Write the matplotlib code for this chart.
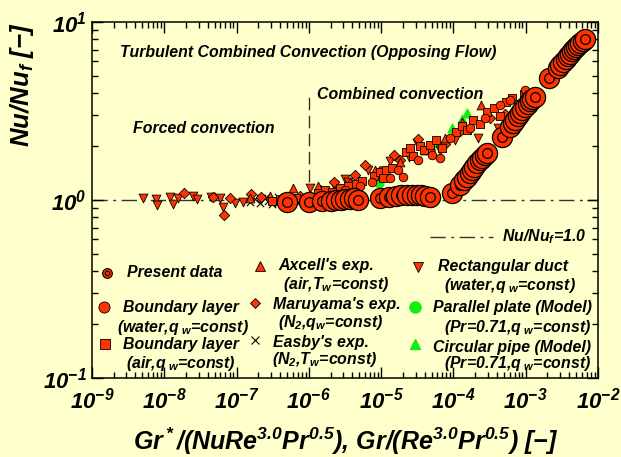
import matplotlib
matplotlib.use('Agg')
import matplotlib.pyplot as plt
import numpy as np
from matplotlib.ticker import FixedLocator, NullFormatter

# данные
pres_x = [5.0e-7, 1.0e-6, 1.5e-6, 2.0e-6, 2.4e-6, 2.8e-6, 3.2e-6, 3.7e-6, 4.2e-6, 4.8e-6,
          9.6e-6, 1.3e-5, 1.6e-5, 1.9e-5, 2.3e-5, 2.7e-5, 3.1e-5, 3.6e-5, 4.1e-5, 4.8e-5,
          9.5e-5, 1.25e-4, 1.4e-4, 1.54e-4, 1.67e-4, 1.8e-4, 1.95e-4, 2.11e-4, 2.3e-4,
          2.48e-4, 2.7e-4, 2.9e-4,
          4.7e-4, 6.0e-4, 6.6e-4, 7.1e-4, 7.7e-4, 8.3e-4, 9.0e-4, 9.75e-4, 1.06e-3,
          1.14e-3, 1.24e-3, 1.34e-3,
          2.09e-3, 2.79e-3, 3.0e-3, 3.27e-3, 3.55e-3, 3.84e-3, 4.1e-3, 4.35e-3, 4.65e-3,
          4.94e-3, 5.3e-3, 5.62e-3, 6.1e-3, 6.59e-3]
pres_y = [0.98, 0.98, 0.99, 0.99, 1.0, 1.0, 1.01, 1.01, 1.02, 1.0,
          1.02, 1.04, 1.05, 1.06, 1.06, 1.07, 1.07, 1.06, 1.05, 1.04,
          1.09, 1.22, 1.3, 1.35, 1.41, 1.47, 1.54, 1.61, 1.67, 1.72, 1.78, 1.84,
          2.26, 2.57, 2.7, 2.81, 2.95, 3.08, 3.2, 3.33, 3.47, 3.6, 3.7, 3.79,
          4.85, 5.52, 5.75, 5.96, 6.2, 6.44, 6.65, 6.87, 7.05, 7.24, 7.45, 7.62, 7.85, 8.02]

rect_x = [5.1e-9, 7.7e-9, 7.9e-9, 1.2e-8, 1.32e-8, 1.55e-8, 2.5e-8, 2.83e-8, 4.4e-8, 5.9e-8,
          6.5e-8, 9.5e-8, 1.22e-7, 2.2e-7, 3.4e-7, 6.0e-7, 1.04e-6, 2.2e-6, 3.2e-6, 3.5e-6,
          6.6e-6, 1.32e-5, 2.4e-5, 3.1e-5, 6.5e-5, 1.04e-4, 2.2e-4, 4.1e-4, 1.69e-4]
rect_y = [1.03, 1.01, 0.94, 1.04, 0.95, 1.03, 1.05, 1.01, 1.04, 1.03,
          0.91, 0.96, 0.98, 1.01, 0.98, 1.01, 1.17, 1.21, 1.31, 1.26,
          1.47, 1.66, 1.75, 2.08, 1.91, 2.17, 2.23, 2.54, 2.47]

maru_x = [1.87e-8, 4.7e-8, 6.7e-8, 8.1e-8, 1.6e-7, 2.2e-7, 7.5e-7, 1.43e-6, 2.2e-6, 4.3e-6,
          6.0e-6, 9.6e-6, 1.5e-5, 1.82e-5, 3.2e-5, 4.7e-5, 7.6e-5, 1.23e-4, 3.2e-4, 5.1e-4]
maru_y = [1.09, 1.04, 0.82, 1.03, 1.08, 1.04, 1.05, 1.14, 1.27, 1.38,
          1.57, 1.45, 1.79, 1.68, 2.2, 1.91, 2.07, 2.45, 2.89, 3.06]

bl_air_x = [3.1e-7, 4.0e-7, 5.2e-7, 6.7e-7, 1.33e-6, 1.67e-6, 2.1e-6, 2.7e-6, 3.5e-6, 4.5e-6,
            5.5e-6, 7.9e-6, 9.6e-6, 1.16e-5, 1.4e-5, 1.07e-5, 2.2e-5, 2.5e-5, 2.8e-5, 3.4e-5,
            3.9e-5, 4.7e-5, 5.7e-5, 6.9e-5, 1.07e-4, 1.3e-4, 1.55e-4, 1.88e-4, 2.3e-4, 2.9e-4,
            3.6e-4, 4.4e-4, 5.3e-4, 6.4e-4, 7.8e-4, 9.5e-4]
bl_air_y = [0.99, 1.01, 0.97, 1.03, 1.09, 1.14, 1.11, 1.17, 1.2, 1.23,
            1.28, 1.36, 1.44, 1.47, 1.51, 1.33, 1.86, 1.96, 1.77, 2.01,
            1.91, 2.04, 2.17, 1.96, 2.41, 2.6, 2.47, 2.81, 2.68, 3.12,
            3.29, 2.96, 3.55, 3.74, 3.46, 3.94]

bl_water_x = [1.96e-6, 3.2e-6, 5.1e-6, 7.4e-6, 1.32e-5, 1.7e-5, 2.0e-5, 3.2e-5, 5.0e-5, 6.5e-5,
              8.9e-5, 1.69e-4, 2.7e-4, 4.4e-4, 6.0e-4, 9.7e-4]
bl_water_y = [1.07, 1.14, 1.2, 1.26, 1.33, 1.47, 1.35, 1.68, 1.79, 1.72,
              2.23, 2.54, 2.89, 3.42, 3.65, 4.15]

axcell_x = [1.53e-7, 2.9e-7, 6.0e-7, 1.33e-6, 3.7e-6, 8.2e-6, 1.82e-5, 4.0e-5, 7.6e-5, 1.3e-4, 2.4e-4]
axcell_y = [1.03, 1.05, 1.17, 1.2, 1.26, 1.47, 1.64, 1.91, 2.23, 2.74, 3.42]

easby_x = [1.53e-7, 1.8e-7, 2.1e-7, 2.5e-7, 2.7e-7, 3.1e-7, 3.7e-7, 4.4e-7, 5.5e-7, 7.0e-7, 8.9e-7]
easby_y = [0.97, 1.01, 0.96, 1.03, 0.99, 0.95, 1.04, 0.97, 1.01, 0.96, 1.03]

plate_x = [9.3e-6]
plate_y = [1.25]

pipe_x = [5.9e-5, 9.5e-5, 1.31e-4, 1.54e-4]
pipe_y = [2.09, 2.54, 2.85, 3.08]

x_ticks = [1e-9, 1e-8, 1e-7, 1e-6, 1e-5, 1e-4, 1e-3, 1e-2]
y_ticks = [0.1, 1.0, 10.0]

BG = '#FFFFCC'
RED = '#FF3300'
GREEN = '#11EE11'
DASHDOT = (11, 4, 2, 4)

plt.rcParams['font.family'] = 'Liberation Sans'
plt.rcParams['font.weight'] = 'bold'
plt.rcParams['font.style'] = 'italic'
plt.rcParams['mathtext.fontset'] = 'custom'
plt.rcParams['mathtext.rm'] = 'Liberation Sans:bold'
plt.rcParams['mathtext.it'] = 'Liberation Sans:bold:italic'
plt.rcParams['mathtext.bf'] = 'Liberation Sans:bold'
plt.rcParams['mathtext.default'] = 'regular'

fig = plt.figure(figsize=(6.21, 4.57), dpi=100)
fig.patch.set_facecolor(BG)
ax = fig.add_axes([0.148, 0.1729, 0.815, 0.779])
ax.set_facecolor(BG)
ax.set_xscale('log')
ax.set_yscale('log')
ax.set_xlim(1e-9, 1e-2)
ax.set_ylim(0.1, 10)

# линии
ax.axhline(1.0, color='#333333', lw=1, dashes=DASHDOT, zorder=1)
ax.plot([1e-6, 1e-6], [1.0, 3.9], color='#333333', lw=1, dashes=(9, 4), zorder=1)

mk = dict(edgecolors='black', linewidths=0.6)
ax.scatter(pipe_x, pipe_y, marker='^', s=40, color=GREEN, zorder=2)
ax.scatter(plate_x, plate_y, marker='o', s=40, color=GREEN, zorder=2)
ax.scatter(easby_x, easby_y, marker='x', s=28, color='black', linewidths=0.8, zorder=3)
ax.scatter(rect_x, rect_y, marker='v', s=40, facecolors=RED, zorder=3, **mk)
ax.scatter(maru_x, maru_y, marker='D', s=28, facecolors=RED, zorder=3, **mk)
ax.scatter(axcell_x, axcell_y, marker='^', s=40, facecolors=RED, zorder=3, **mk)
ax.scatter(bl_air_x, bl_air_y, marker='s', s=34, facecolors=RED, zorder=3, **mk)
ax.scatter(bl_water_x, bl_water_y, marker='o', s=38, facecolors=RED, zorder=3, **mk)

# present data: каждый кружок с внутренним кольцом
for i, (x, y) in enumerate(zip(pres_x, pres_y)):
    ax.plot(x, y, 'o', ms=14.5, mfc=RED, mec='black', mew=0.9, zorder=5 + 2 * i)
    ax.plot(x, y, 'o', ms=7, mfc=RED, mec='black', mew=0.9, zorder=6 + 2 * i)

ax.xaxis.set_major_locator(FixedLocator(x_ticks))
ax.yaxis.set_major_locator(FixedLocator(y_ticks))
x_minor = [m * t for t in x_ticks[:-1] for m in range(2, 10)]
y_minor = [m * t for t in y_ticks[:-1] for m in range(2, 10)]
ax.xaxis.set_minor_locator(FixedLocator(x_minor))
ax.yaxis.set_minor_locator(FixedLocator(y_minor))
ax.xaxis.set_minor_formatter(NullFormatter())
ax.yaxis.set_minor_formatter(NullFormatter())
ax.tick_params(which='both', direction='in', top=True, right=True, width=1)
ax.tick_params(which='major', length=8, labelsize=16)
ax.tick_params(which='minor', length=4)
ax.tick_params(axis='x', which='major', pad=7)
ax.tick_params(axis='y', which='major', pad=4)
for s in ax.spines.values():
    s.set_linewidth(1.1)

# подписи
fs = 11.4
tr = ax.transAxes
ax.text(0.0553, 0.913, 'Turbulent Combined Convection (Opposing Flow)', transform=tr,
        fontsize=fs, va='center')
ax.text(0.081, 0.702, 'Forced convection', transform=tr, fontsize=fs, va='center')
ax.text(0.4447, 0.795, 'Combined convection', transform=tr, fontsize=fs, va='center')

# легенда вручную
leg = dict(transform=tr, clip_on=False, zorder=200)
ax.plot(0.0296, 0.295, 'o', ms=7, mfc=RED, mec='black', mew=0.8, **leg)
ax.plot(0.0296, 0.295, 'o', ms=3.2, mfc=RED, mec='black', mew=0.8, **leg)
ax.plot(0.0237, 0.199, 'o', ms=8, mfc=RED, mec='black', mew=0.6, **leg)
ax.plot(0.0257, 0.0955, 's', ms=7.5, mfc=RED, mec='black', mew=0.6, **leg)
ax.plot(0.332, 0.3146, '^', ms=7.5, mfc=RED, mec='black', mew=0.6, **leg)
ax.plot(0.322, 0.212, 'D', ms=5.5, mfc=RED, mec='black', mew=0.6, **leg)
ax.plot(0.322, 0.107, 'x', ms=6, color='black', mew=0.8, **leg)
ax.plot([0.668, 0.7925], [0.396, 0.396], color='#333333', lw=1, dashes=DASHDOT, **leg)
ax.plot(0.644, 0.312, 'v', ms=7.5, mfc=RED, mec='black', mew=0.6, **leg)
ax.plot(0.638, 0.199, 'o', ms=8, color=GREEN, **leg)
ax.plot(0.638, 0.0955, '^', ms=7.5, color=GREEN, **leg)

labels = [
    (0.0692, 0.295, 'Present data'),
    (0.0613, 0.199, 'Boundary layer'),
    (0.0494, 0.143, r'(water,$q_{\ w}$=const)'),
    (0.0613, 0.0927, 'Boundary layer'),
    (0.0672, 0.0393, r'(air,$q_{\ w}$=const)'),
    (0.3676, 0.3146, "Axcell's exp."),
    (0.3775, 0.2612, '(air,$T_w$=const)'),
    (0.3577, 0.2051, "Maruyama's exp."),
    (0.3676, 0.155, '($N_2$,$q_w$=const)'),
    (0.3577, 0.101, "Easby's exp."),
    (0.3557, 0.0506, '($N_2$,$T_w$=const)'),
    (0.810, 0.396, '$Nu/Nu_f$=1.0'),
    (0.684, 0.312, 'Rectangular duct'),
    (0.6957, 0.261, r'(water,$q_{\ w}$=const)'),
    (0.674, 0.197, 'Parallel plate (Model)'),
    (0.6957, 0.143, r'(Pr=0.71,$q_{\ w}$=const)'),
    (0.674, 0.087, 'Circular pipe (Model)'),
    (0.6957, 0.0393, r'(Pr=0.71,$q_{\ w}$=const)'),
]
for x, y, t in labels:
    ax.text(x, y, t, transform=tr, fontsize=fs, va='center', zorder=200)

fig.text(22 / 621, 1 - 85 / 457, r'$Nu/Nu_f$ $\mathrm{[-]}$', rotation=90,
         ha='center', va='center', fontsize=18.5)
fig.text(346 / 621, 1 - 441 / 457,
         r'$Gr^*/(NuRe^{3.0}Pr^{0.5})$, $Gr/(Re^{3.0}Pr^{0.5})$ $\mathrm{[-]}$',
         ha='center', va='center', fontsize=18)

fig.savefig('out.png', dpi=100, facecolor=BG)
